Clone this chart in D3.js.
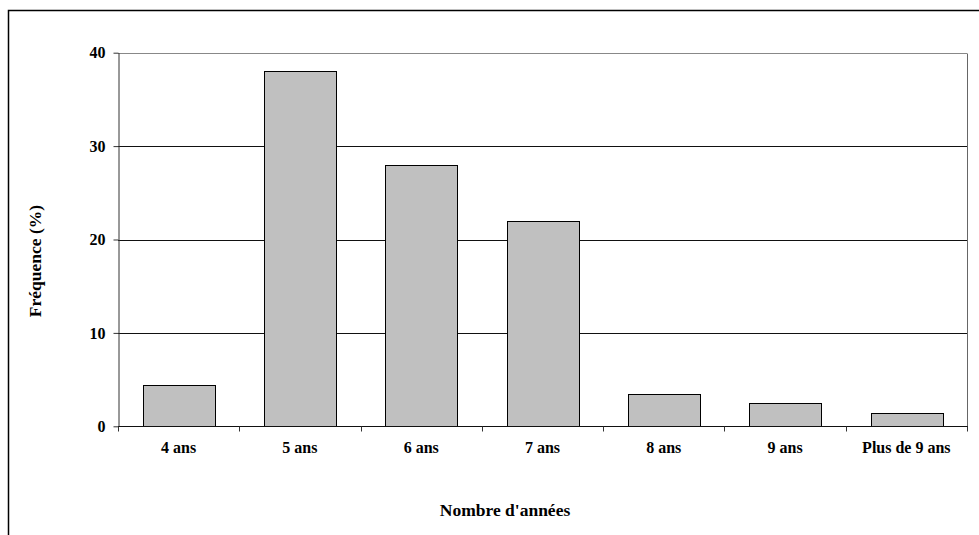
<!DOCTYPE html>
<html><head><meta charset="utf-8">
<script src="https://cdn.jsdelivr.net/npm/d3@7"></script>
<style>body{margin:0;background:#fff}svg{display:block}</style>
</head><body>
<svg id="c" width="979" height="535"></svg>
<script>
const categories = ["4 ans","5 ans","6 ans","7 ans","8 ans","9 ans","Plus de 9 ans"];
const values = [4.4, 38, 28, 22, 3.5, 2.5, 1.4];
const yTicks = [0, 10, 20, 30, 40];
const yTitle = "Fréquence (%)";
const xTitle = "Nombre d'années";

const svg = d3.select("#c");
const font = "'Liberation Serif','DejaVu Serif',serif";
// outer frame
svg.append("rect").attr("x",8.5).attr("y",10.5).attr("width",1000).attr("height",600)
  .attr("fill","none").attr("stroke","#000").attr("stroke-width",1.5);

const L=118, R=967, T=52.7, B=426.3;
const x = d3.scaleBand().domain(categories).range([L,R]).paddingInner(0.41).paddingOuter(0.205);
const y = d3.scaleLinear().domain([0,40]).range([B,T]);

// gridlines
svg.append("g").selectAll("line").data(yTicks.filter(d=>d>0)).join("line")
  .attr("x1",L).attr("x2",R).attr("y1",d=>Math.round(y(d))+0.5).attr("y2",d=>Math.round(y(d))+0.5)
  .attr("stroke",d=>d===40?"#888":"#111").attr("stroke-width",1);
// right border
svg.append("line").attr("x1",R+0.5).attr("x2",R+0.5).attr("y1",Math.round(T)+0.5).attr("y2",B)
  .attr("stroke","#666");

// bars
svg.append("g").selectAll("rect").data(values).join("rect")
  .attr("x",(d,i)=>Math.round(x(categories[i]))+0.5)
  .attr("y",d=>Math.round(y(d))+0.5)
  .attr("width",Math.round(x.bandwidth()))
  .attr("height",d=>Math.round(B)-Math.round(y(d)))
  .attr("fill","#c0c0c0").attr("stroke","#000").attr("stroke-width",1);

// y axis
const ya = svg.append("g").attr("transform",`translate(${L+0.5},0)`)
  .call(d3.axisLeft(y).tickValues(yTicks).tickSize(5).tickPadding(8).tickSizeOuter(0));
ya.select(".domain").attr("stroke","#333");
ya.selectAll(".tick line").attr("stroke","#333");
ya.selectAll("text").attr("font-family",font).attr("font-weight","bold").attr("font-size",16).attr("fill","#000");

// x axis
const xa = svg.append("g").attr("transform",`translate(0,${Math.round(B)+0.5})`);
xa.append("line").attr("x1",L).attr("x2",R+1).attr("stroke","#111");
xa.selectAll("line.tk").data(d3.range(categories.length+1)).join("line").attr("class","tk")
  .attr("x1",i=>Math.round(L+i*(R-L)/categories.length)+0.5).attr("x2",i=>Math.round(L+i*(R-L)/categories.length)+0.5)
  .attr("y1",0).attr("y2",5).attr("stroke","#333");
xa.selectAll("text").data(categories).join("text")
  .attr("x",d=>x(d)+x.bandwidth()/2).attr("y",26)
  .attr("text-anchor","middle").attr("font-family",font).attr("font-weight","bold").attr("font-size",16)
  .text(d=>d);

// titles
svg.append("text").attr("transform","translate(41,261) rotate(-90)").attr("text-anchor","middle")
  .attr("font-family",font).attr("font-weight","bold").attr("font-size",17.5).text(yTitle);
svg.append("text").attr("x",505).attr("y",516).attr("text-anchor","middle")
  .attr("font-family",font).attr("font-weight","bold").attr("font-size",17.5).text(xTitle);
</script>
</body></html>
